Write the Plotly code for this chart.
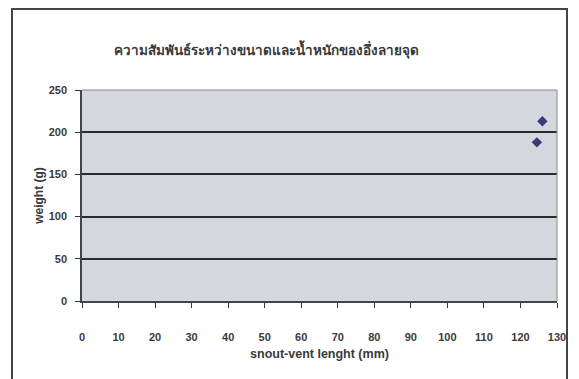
import plotly.graph_objects as go

svl = [126, 124.5]
weight = [213, 188]
x_ticks = list(range(0, 131, 10))
y_ticks = [0, 50, 100, 150, 200, 250]

title = "ความสัมพันธ์ระหว่างขนาดและน้ำหนักของอึ่งลายจุด"

# page is offset by the default 8px body margin
OFF = 8
W, H = 579 - OFF, 379 - OFF
L, R, T, B = 82 - OFF, 22, 90 - OFF, 78
pw, ph = W - L - R, H - T - B

def px2paper_x(px):
    return (px - OFF - L) / pw

def py2paper_y(py):
    return (H - B - (py - OFF)) / ph

fig = go.Figure()
fig.add_trace(go.Scatter(
    x=svl, y=weight, mode="markers",
    marker=dict(symbol="diamond", size=8, color="#3a3a78"),
    showlegend=False,
))

font = "Liberation Sans, Arial, sans-serif"

fig.update_layout(
    width=W, height=H,
    margin=dict(l=L, r=R, t=T, b=B, autoexpand=False),
    paper_bgcolor="white",
    plot_bgcolor="#d4d7dd",
    font=dict(family=font, color="#333333", size=11),
    title=dict(text="<b>" + title + "</b>", x=px2paper_x(266), xref="paper",
               xanchor="center",
               y=1 - (50 - OFF) / H, yanchor="middle",
               font=dict(size=13.5, color="#3a3a3a", family="Noto Sans, " + font)),
    xaxis=dict(range=[0, 130], tickvals=x_ticks, ticks="outside", ticklen=5,
               tickcolor="#333", showgrid=False, zeroline=False,
               showline=True, linecolor="#444", linewidth=1.5,
               ticklabelstandoff=20,
               tickfont=dict(size=11, color="#3a3a3a", weight="bold"),
               title=dict(text="snout-vent lenght (mm)", standoff=7,
                          font=dict(size=12.5, color="#3a3a3a", weight="bold"))),
    yaxis=dict(range=[0, 250], tickvals=y_ticks, ticks="outside", ticklen=5,
               tickcolor="#333", showgrid=True, gridcolor="#2b2b2b", gridwidth=1.5,
               zeroline=False, showline=True, linecolor="#444", linewidth=1.5,
               ticklabelstandoff=6,
               tickfont=dict(size=11, color="#3a3a3a", weight="bold"),
               title=dict(text="weight (g)", standoff=2,
                          font=dict(size=12, color="#3a3a3a", weight="bold"))),
)

# plot-area border top/right (lighter)
fig.add_shape(type="line", xref="paper", yref="paper", x0=0, x1=1, y0=1, y1=1,
              line=dict(color="#8a8a8a", width=1), layer="above")
fig.add_shape(type="line", xref="paper", yref="paper", x0=1, x1=1, y0=0, y1=1,
              line=dict(color="#8a8a8a", width=1), layer="above")

# outer chart frame
fx0, fx1 = px2paper_x(12), px2paper_x(567)
fy0, fy1 = py2paper_y(385), py2paper_y(9)
fig.add_shape(type="path", xref="paper", yref="paper",
              path=f"M {fx0} {fy0} L {fx0} {fy1} L {fx1} {fy1} L {fx1} {fy0}",
              line=dict(color="#444444", width=2))

fig.write_html("out.html")
